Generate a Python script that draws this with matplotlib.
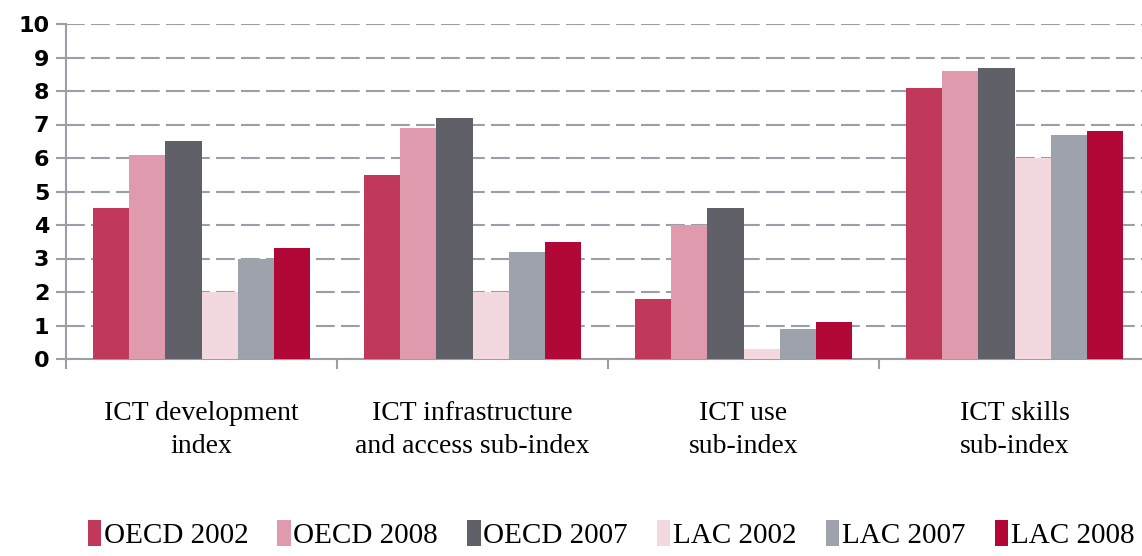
import matplotlib.pyplot as plt
import numpy as np

# === Data ===
categories = ['ICT development\nindex', 'ICT infrastructure\nand access sub-index',
              'ICT use\nsub-index', 'ICT skills\nsub-index']
series_names = ['OECD 2002', 'OECD 2008', 'OECD 2007', 'LAC 2002', 'LAC 2007', 'LAC 2008']
oecd_2002 = [4.5, 5.5, 1.8, 8.1]
oecd_2008 = [6.1, 6.9, 4.0, 8.6]
oecd_2007 = [6.5, 7.2, 4.5, 8.7]
lac_2002 = [2.0, 2.0, 0.3, 6.0]
lac_2007 = [3.0, 3.2, 0.9, 6.7]
lac_2008 = [3.3, 3.5, 1.1, 6.8]
series = [oecd_2002, oecd_2008, oecd_2007, lac_2002, lac_2007, lac_2008]
colors = ['#c0395b', '#e09aae', '#5f6068', '#f3d8df', '#9ea2aa', '#b20838']

# === Plot ===
fig = plt.figure(figsize=(11.42, 5.56), dpi=100)
ax = fig.add_axes([66 / 1142, 197 / 556, 1084 / 1142, 335 / 556])

x = np.arange(len(categories))
w = 0.8 / len(series)
for i, (vals, name, c) in enumerate(zip(series, series_names, colors)):
    ax.bar(x - 0.4 + w * (i + 0.5), vals, width=w, color=c, label=name, zorder=3)

ax.set_xlim(-0.5, len(categories) - 0.5)
ax.set_ylim(0, 10)
ax.set_yticks(range(0, 11))
ax.yaxis.grid(True, color='#9a9ea6', linewidth=1.5, dashes=(9, 3), zorder=0)

# group separator ticks, category labels on minor ticks
ax.set_xticks(np.arange(-0.5, len(categories)), labels=[''] * (len(categories) + 1))
ax.set_xticks(x, labels=categories, minor=True)
ax.tick_params(axis='x', which='minor', length=0, pad=30)
ax.tick_params(axis='x', which='major', length=7, color='#9a9ea6', width=1.5)
ax.tick_params(axis='y', length=7, color='#9a9ea6', width=1.5, pad=5)
for lbl in ax.get_xticklabels(minor=True):
    lbl.set_fontfamily('Liberation Serif')
    lbl.set_fontsize(20)
    lbl.set_linespacing(1.45)
for lbl in ax.get_yticklabels():
    lbl.set_fontweight('bold')
    lbl.set_fontsize(16)

for s in ['top', 'right']:
    ax.spines[s].set_visible(False)
for s in ['left', 'bottom']:
    ax.spines[s].set_color('#9a9ea6')
    ax.spines[s].set_linewidth(1.5)

fig.legend(loc='lower center', bbox_to_anchor=(0.535, -0.035), ncol=6, frameon=False,
           prop={'family': 'Liberation Serif', 'size': 21},
           handlelength=0.45, handleheight=1.0, handletextpad=0.1, columnspacing=1.0)

plt.savefig('out.png', dpi=100)
